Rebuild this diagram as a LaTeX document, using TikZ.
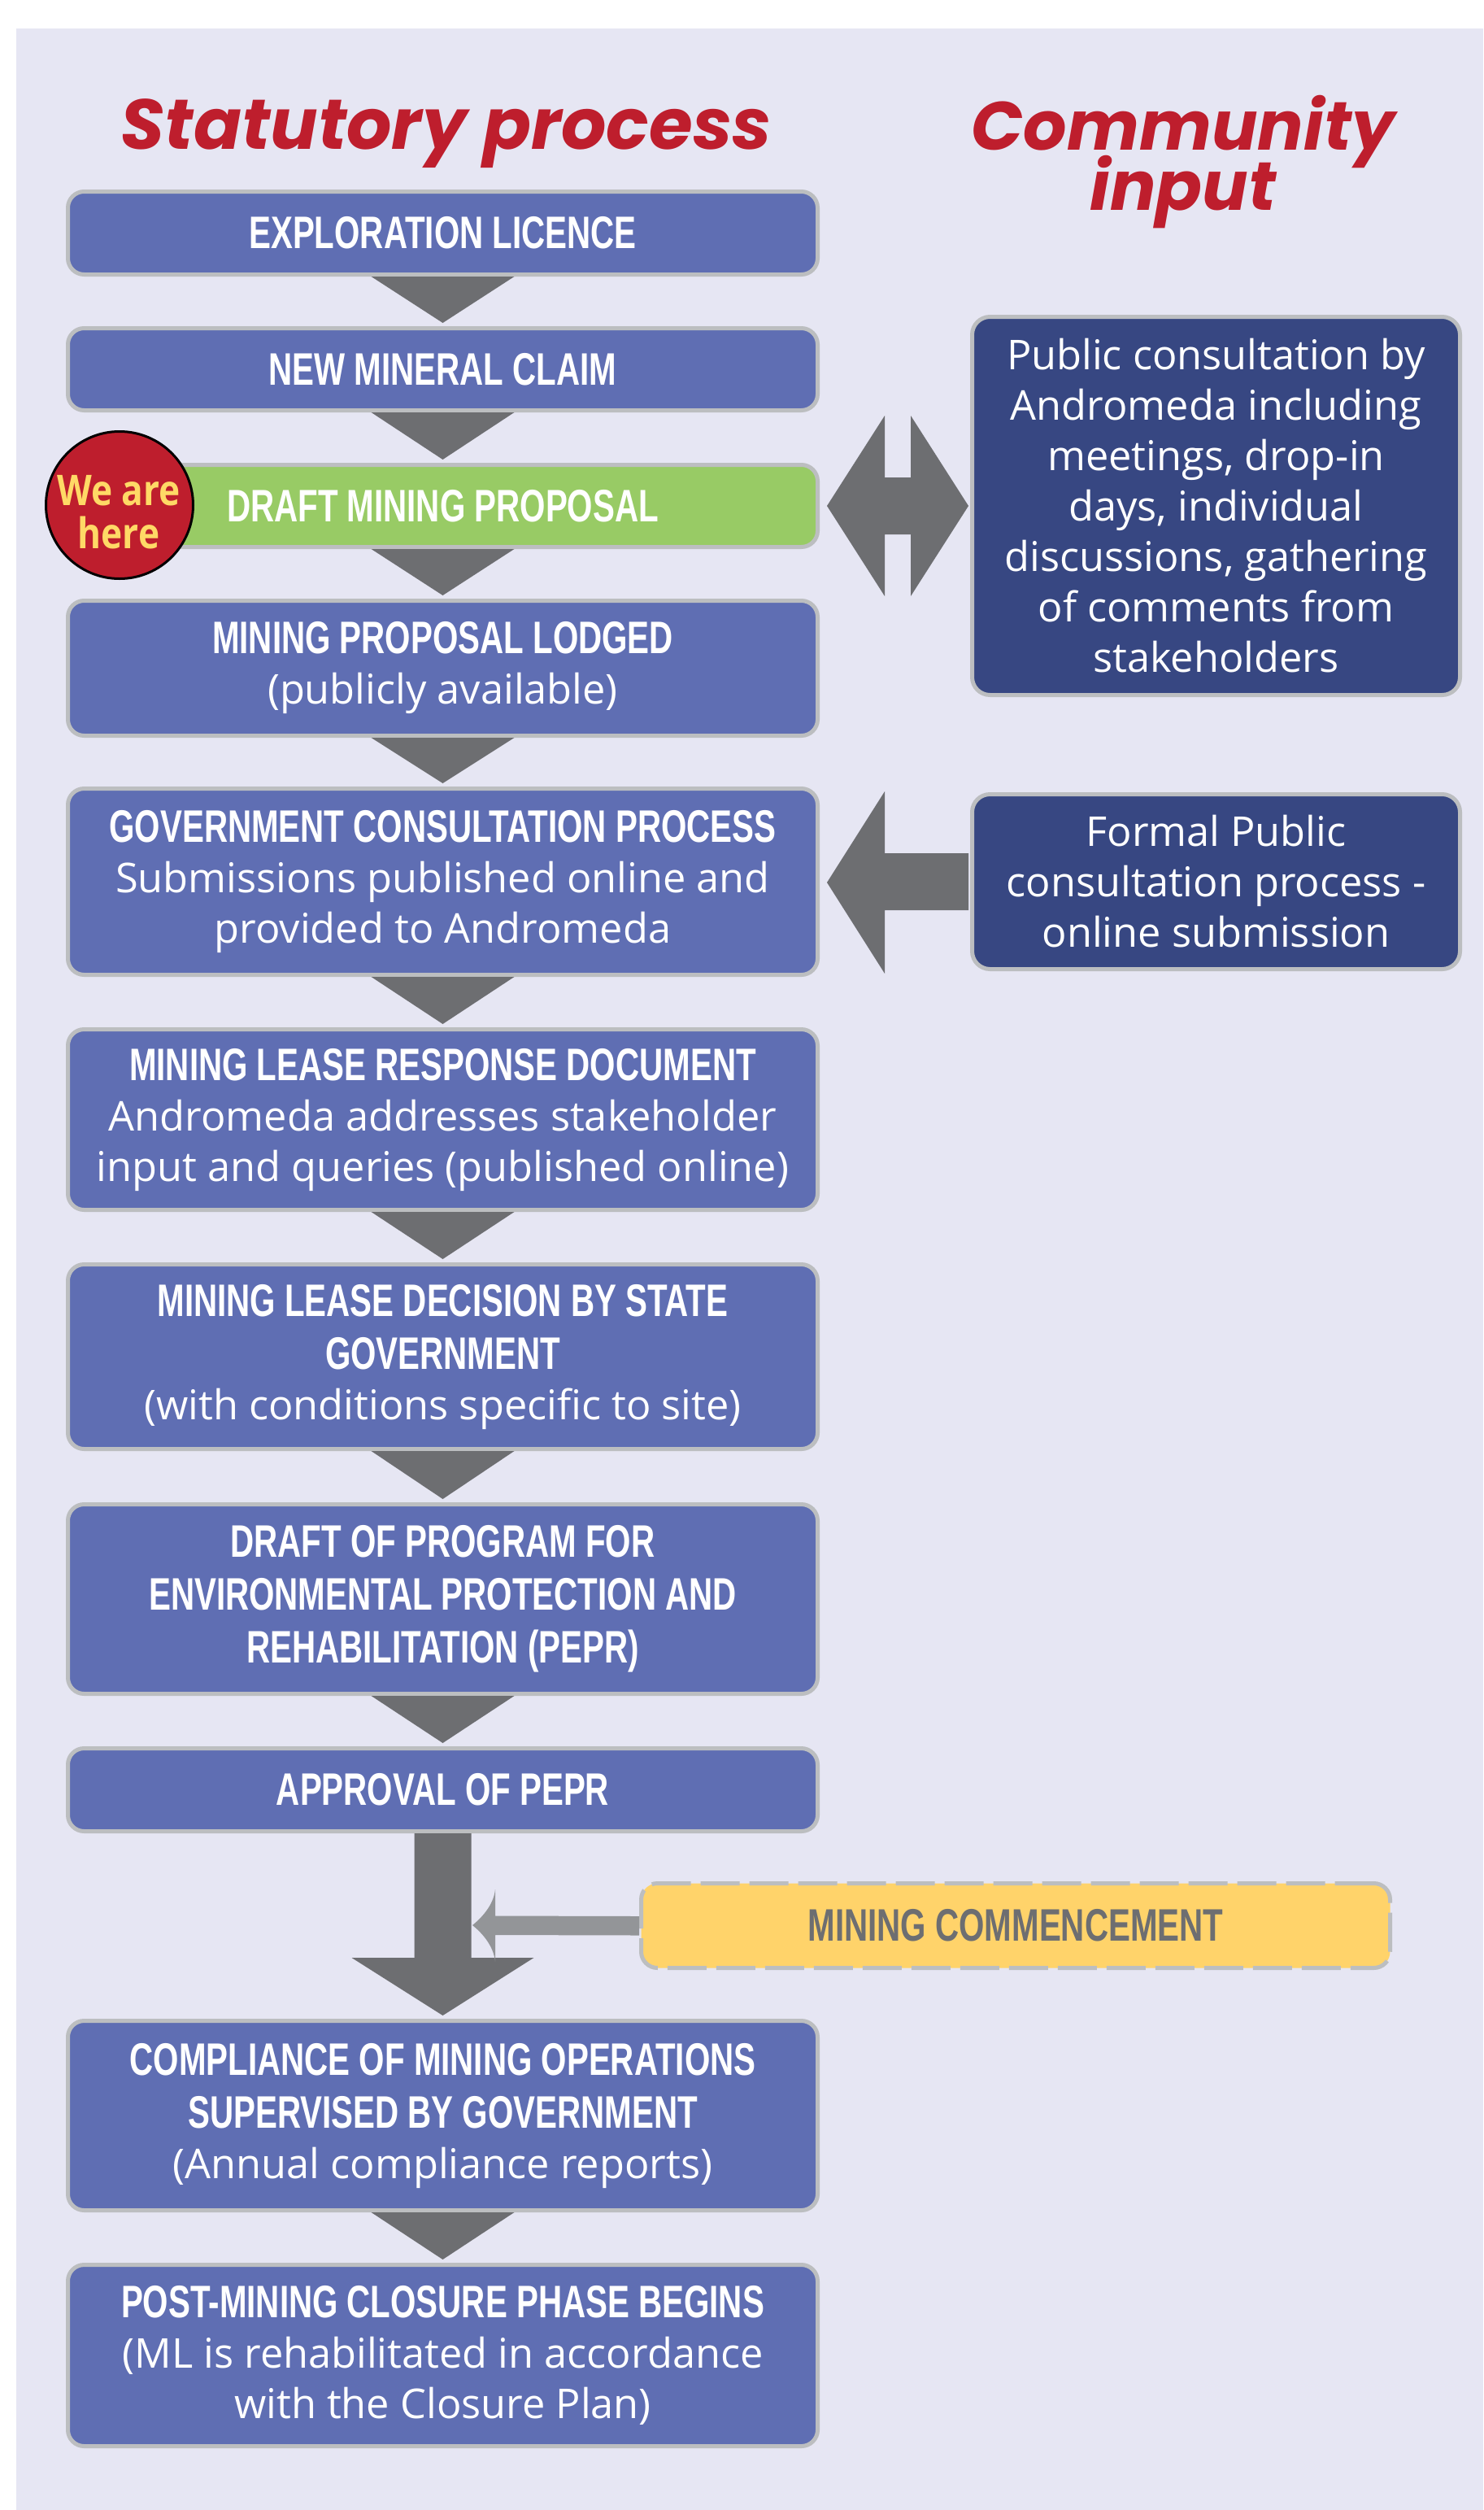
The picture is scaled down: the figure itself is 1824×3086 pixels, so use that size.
\documentclass[tikz,border=0pt]{standalone}
\usepackage{fontspec}
\setmainfont{Open Sans}
\newfontfamily\headfont[FakeStretch=0.72]{Liberation Sans}
\newfontfamily\titlefont{Poppins}
\newfontfamily\herefont[FakeStretch=0.85]{Open Sans}
\usetikzlibrary{calc}
\definecolor{bg}{HTML}{E6E6F3}
\definecolor{boxblue}{HTML}{5F6EB3}
\definecolor{navy}{HTML}{374782}
\definecolor{mgreen}{HTML}{98CB65}
\definecolor{arrowgray}{HTML}{6D6E71}
\definecolor{lightarrow}{HTML}{939598}
\definecolor{bordergray}{HTML}{BCBEC0}
\definecolor{titlered}{HTML}{BE1E2D}
\definecolor{myellow}{HTML}{FFD36A}
\definecolor{hereyellow}{HTML}{FFD966}
\newcommand\hd{\headfont\bfseries\fontsize{56}{62}\selectfont}
\newcommand\bd{\normalfont\fontsize{50.5}{62}\selectfont}
\tikzset{
  stepbox/.style={rounded corners=20pt, fill=boxblue, draw=bordergray, line width=5pt,
    minimum width=922pt, minimum height=#1, align=center, text=white, inner sep=0pt, font=\bd},
  commbox/.style={rounded corners=22pt, fill=navy, draw=bordergray, line width=5pt,
    minimum width=600pt, minimum height=#1, align=center, text=white, inner sep=0pt, font=\bd},
  tri/.style={fill=arrowgray},
  titletext/.style={text=titlered, inner sep=0pt, align=center, font={\titlefont\bfseries\itshape\fontsize{#1}{74}\selectfont\lineskiplimit=-200pt\relax}},
}
\newcommand\downtri[2]{\fill[tri] ($(#1.south)+(-88,0)$) -- ($(#1.south)+(88,0)$) -- ($(#2.north)+(0,-4)$) -- cycle;}
\begin{document}
\begin{tikzpicture}[x=1pt,y=-1pt]
\useasboundingbox (0,0) rectangle (1824,3086);
\fill[bg] (20,35) rectangle (1824,3086);

% titles
\node[titletext=87, anchor=base] (stat) at (549,183) {Statutory process};
\node[titletext=84, anchor=center] (comm) at (1455,199) {Community\\input};

% left column
\node[stepbox=102pt] (b1) at (544.5,286.5) {\hd EXPLORATION LICENCE};
\node[stepbox=101pt] (b2) at (544.5,454) {\hd NEW MINERAL CLAIM};
\node[stepbox=101pt, fill=mgreen] (b3) at (544.5,622) {\hd DRAFT MINING PROPOSAL};
\node[stepbox=166pt] (b4) at (544.5,821.5) {\hd MINING PROPOSAL LODGED\\ \bd (publicly available)};
\node[stepbox=229pt] (b5) at (544.5,1084) {\hd GOVERNMENT CONSULTATION PROCESS\\ \bd Submissions published online and\\ \bd provided to Andromeda};
\node[stepbox=222pt] (b6) at (544.5,1376.5) {\hd MINING LEASE RESPONSE DOCUMENT\\ \bd Andromeda addresses stakeholder\\ \bd input and queries (published online)};
\node[stepbox=227pt] (b7) at (544.5,1668) {\hd MINING LEASE DECISION BY STATE\\[3pt] \hd GOVERNMENT\\ \bd (with conditions specific to site)};
\node[stepbox=233pt] (b8) at (544.5,1966) {\hd DRAFT OF PROGRAM FOR\\[3pt] \hd ENVIRONMENTAL PROTECTION AND\\[3pt] \hd REHABILITATION (PEPR)};
\node[stepbox=102pt] (b9) at (544.5,2200.5) {\hd APPROVAL OF PEPR};
\node[stepbox=233pt] (b10) at (544.5,2601) {\hd COMPLIANCE OF MINING OPERATIONS\\[3pt] \hd SUPERVISED BY GOVERNMENT\\ \bd (Annual compliance reports)};
\node[stepbox=223pt] (b11) at (544.5,2896) {\hd POST-MINING CLOSURE PHASE BEGINS\\ \bd (ML is rehabilitated in accordance\\ \bd with the Closure Plan)};

% triangles
\downtri{b1}{b2}
\downtri{b2}{b3}
\downtri{b3}{b4}
\downtri{b4}{b5}
\downtri{b5}{b6}
\downtri{b6}{b7}
\downtri{b7}{b8}
\downtri{b8}{b9}
\downtri{b10}{b11}

% we are here
\node[circle, fill=titlered, draw=black, line width=3pt, minimum size=181pt, inner sep=0pt] (here) at (147,621) {};
\node[align=center, text=hereyellow, inner sep=0pt, font={\herefont\bfseries\fontsize{52}{53}\selectfont}] (heretxt) at (146,630) {We are\\here};

% community boxes
\node[commbox=465pt] (cA) at (1495.5,622) {Public consultation by\\Andromeda including\\meetings, drop-in\\days, individual\\discussions, gathering\\of comments from\\stakeholders};
\node[commbox=215pt] (cB) at (1495.5,1084) {Formal Public\\consultation process -\\online submission};

% double arrow
\coordinate (dl) at ($(b3.east)+(9,0)$);
\coordinate (dr) at ($(cA.west)+(-2,0)$);
\fill[arrowgray] (dl) -- ($(dl)+(71,-111)$) -- ($(dl)+(71,-35)$) -- ($(dr)+(-71,-35)$) -- ($(dr)+(-71,-111)$) -- (dr)
  -- ($(dr)+(-71,111)$) -- ($(dr)+(-71,35)$) -- ($(dl)+(71,35)$) -- ($(dl)+(71,111)$) -- cycle;

% left arrow from formal consultation
\coordinate (gl) at ($(b5.east)+(9,1)$);
\fill[arrowgray] ($(cB.west)+(-2,-35)$) -- ($(gl)+(71,-36)$) -- ($(gl)+(71,-112)$) -- (gl)
  -- ($(gl)+(71,112)$) -- ($(gl)+(71,34)$) -- ($(cB.west)+(-2,35)$) -- cycle;

% thick arrow approval -> compliance
\fill[arrowgray] ($(b9.south)+(-35,0)$) -- ($(b9.south)+(35,0)$) -- ($(b10.north)+(35,-75)$) -- ($(b10.north)+(112,-75)$)
  -- ($(b10.north)+(0,-4)$) -- ($(b10.north)+(-112,-75)$) -- ($(b10.north)+(-35,-75)$) -- cycle;

% mining commencement
\node[draw=bordergray, dash pattern=on 48pt off 12pt, line width=5pt, fill=myellow, rounded corners=20pt,
  minimum width=921pt, minimum height=104pt, inner sep=0pt, text=arrowgray, font=\hd] (mc) at (1249,2367.5) {MINING COMMENCEMENT};
\coordinate (tip) at (581,2367);
\fill[lightarrow] ($(mc.west)+(0,-11.5)$) -- ($(tip)+(28,-11.5)$) -- ($(tip)+(28,-44)$)
  .. controls ($(tip)+(26,-24)$) and ($(tip)+(10,-8)$) .. (tip)
  .. controls ($(tip)+(10,8)$) and ($(tip)+(26,24)$) .. ($(tip)+(28,45)$)
  -- ($(tip)+(28,12)$) -- ($(mc.west)+(0,12)$) -- cycle;
\end{tikzpicture}
\end{document}
